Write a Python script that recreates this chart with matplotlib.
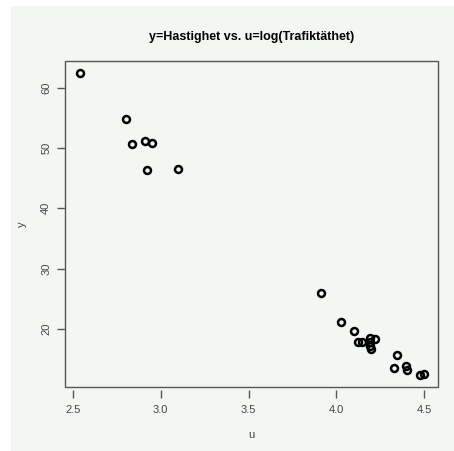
import numpy as np
import matplotlib.pyplot as plt
from matplotlib.patches import Rectangle

# data
u = [2.541, 2.803, 2.836, 2.910, 2.951, 2.924, 3.099,
     3.911, 4.024, 4.102, 4.123, 4.144,
     4.192, 4.192, 4.192, 4.198, 4.219,
     4.345, 4.326, 4.398, 4.402, 4.475, 4.498]
y = [62.55, 54.84, 50.73, 51.28, 50.95, 46.41, 46.62,
     25.89, 21.11, 19.62, 17.84, 17.74,
     18.40, 17.74, 17.17, 16.62, 18.24,
     15.62, 13.51, 13.79, 13.18, 12.30, 12.41]
xticks = [2.5, 3.0, 3.5, 4.0, 4.5]
yticks = [20, 30, 40, 50, 60]

bg = '#f3f7f4'
grey = '#555555'
plt.rcParams['font.family'] = ['Liberation Sans', 'DejaVu Sans']

fig = plt.figure(figsize=(4.54, 4.51), dpi=100, facecolor='white')
fig.patches.append(Rectangle((11/454, 0), 1, 445/451, transform=fig.transFigure,
                             facecolor=bg, edgecolor='none', zorder=-10))

ax = fig.add_axes([65/454, 64/451, 373/454, 326/451])
ax.set_facecolor(bg)
ax.plot(u, y, 'o', mfc='none', mec='black', ms=5, mew=1.8, clip_on=False)

ax.set_xlim(2.456, 4.578)
ax.set_ylim(10.3, 64.5)
ax.set_xticks(xticks)
ax.set_xticklabels(['2.5', '3.0', '3.5', '4.0', '4.5'])
ax.set_yticks(yticks)
ax.set_yticklabels([str(t) for t in yticks], rotation=90, va='center')

for s in ax.spines.values():
    s.set_visible(False)
ax.spines['bottom'].set_position(('outward', 2))
ax.add_patch(Rectangle((0, 0), 1, 1, transform=ax.transAxes, fill=False,
                       edgecolor=grey, lw=1, clip_on=False, zorder=3))
ax.tick_params(axis='both', direction='out', length=6, width=1, color=grey,
               labelcolor='#444444', labelsize=8)
ax.tick_params(axis='x', pad=5)
ax.tick_params(axis='y', pad=4)

ax.set_xlabel('u', fontsize=8, color='#444444', labelpad=11)
ax.set_ylabel('y', fontsize=8, color='#444444', labelpad=10)
ax.set_title('y=Hastighet vs. u=log(Trafiktäthet)', fontsize=9,
             fontweight='bold', pad=15)

fig.savefig('out.png', dpi=100, facecolor='white')
